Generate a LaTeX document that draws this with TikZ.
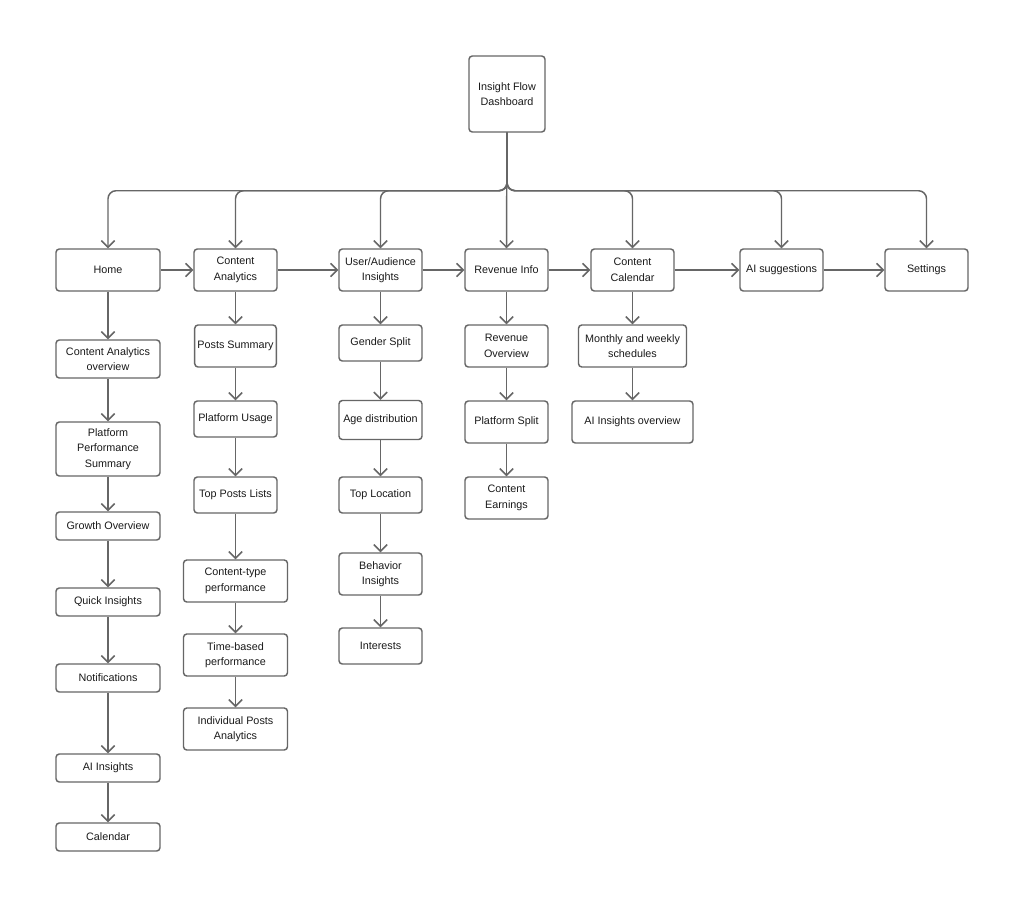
\documentclass[tikz,border=0pt]{standalone}
\usepackage{fontspec}
\setmainfont{Liberation Sans}
\usetikzlibrary{arrows.meta}
\definecolor{linegray}{HTML}{666666}
\definecolor{textgray}{HTML}{1A1A1A}
\tikzstyle{box}=[rectangle,draw=linegray,line width=1.1pt,rounded corners=2.5pt,fill=white,text=textgray,align=center,inner sep=2pt,minimum width=62.25pt,minimum height=31.5pt,font=\fontsize{8.1}{11.6}\selectfont]
\tikzstyle{child}=[-{Straight Barb[length=5pt,width=10pt]},draw=linegray,line width=1.1pt]
\tikzstyle{branch}=[child,rounded corners=6pt]

\begin{document}
\begin{tikzpicture}[x=0.75pt,y=-0.75pt]
  \useasboundingbox[fill=white] (0,0) rectangle (1024,907);

  \node[box,minimum width=57pt,minimum height=57pt] (D) at (507,94) {Insight Flow\\Dashboard};

  % top row
  \node[box,minimum width=78pt] (H) at (108,270) {Home};
  \node[box] (CA) at (235.5,270) {Content\\Analytics};
  \node[box] (UA) at (380.5,270) {User/Audience\\Insights};
  \node[box] (RI) at (506.5,270) {Revenue Info};
  \node[box] (CC) at (632.5,270) {Content\\Calendar};
  \node[box] (AS) at (781.5,270) {AI suggestions};
  \node[box] (ST) at (926.5,270) {Settings};

  % home column
  \node[box,minimum width=78pt,minimum height=28.5pt] (H1) at (108,359) {Content Analytics\\overview};
  \node[box,minimum width=78pt,minimum height=40.5pt] (H2) at (108,449) {Platform\\Performance\\Summary};
  \node[box,minimum width=78pt,minimum height=21pt] (H3) at (108,526) {Growth Overview};
  \node[box,minimum width=78pt,minimum height=21pt] (H4) at (108,602) {Quick Insights};
  \node[box,minimum width=78pt,minimum height=21pt] (H5) at (108,678) {Notifications};
  \node[box,minimum width=78pt,minimum height=21pt] (H6) at (108,768) {AI Insights};
  \node[box,minimum width=78pt,minimum height=21pt] (H7) at (108,837) {Calendar};

  % content analytics column
  \node[box,minimum width=60.75pt] (CA1) at (235.5,346) {Posts Summary};
  \node[box,minimum height=27pt] (CA2) at (235.5,419) {Platform Usage};
  \node[box,minimum height=27pt] (CA3) at (235.5,495) {Top Posts Lists};
  \node[box,minimum width=78pt] (CA4) at (235.5,581) {Content-type\\performance};
  \node[box,minimum width=78pt] (CA5) at (235.5,655) {Time-based\\performance};
  \node[box,minimum width=78pt] (CA6) at (235.5,729) {Individual Posts\\Analytics};

  % audience column
  \node[box,minimum height=27pt] (UA1) at (380.5,343) {Gender Split};
  \node[box,minimum height=29.25pt] (UA2) at (380.5,420) {Age distribution};
  \node[box,minimum height=27pt] (UA3) at (380.5,495) {Top Location};
  \node[box] (UA4) at (380.5,574) {Behavior\\Insights};
  \node[box,minimum height=27pt] (UA5) at (380.5,646) {Interests};

  % revenue column
  \node[box] (RI1) at (506.5,346) {Revenue\\Overview};
  \node[box] (RI2) at (506.5,422) {Platform Split};
  \node[box] (RI3) at (506.5,498) {Content\\Earnings};

  % calendar column
  \node[box,minimum width=81pt] (CC1) at (632.5,346) {Monthly and weekly\\schedules};
  \node[box,minimum width=90.75pt] (CC2) at (632.5,422) {AI Insights overview};

  % branches from the dashboard
  \draw[branch] (D.south) -- ++(0,58) -| (H.north);
  \draw[branch] (D.south) -- ++(0,58) -| (CA.north);
  \draw[branch] (D.south) -- ++(0,58) -| (UA.north);
  \draw[child] (D.south) -- (RI.north);
  \draw[branch] (D.south) -- ++(0,58) -| (CC.north);
  \draw[branch] (D.south) -- ++(0,58) -| (AS.north);
  \draw[branch] (D.south) -- ++(0,58) -| (ST.north);

  \draw[child] (H)--(CA); \draw[child] (CA)--(UA); \draw[child] (UA)--(RI);
  \draw[child] (RI)--(CC); \draw[child] (CC)--(AS); \draw[child] (AS)--(ST);

  \draw[child] (H)--(H1); \draw[child] (H1)--(H2); \draw[child] (H2)--(H3);
  \draw[child] (H3)--(H4); \draw[child] (H4)--(H5); \draw[child] (H5)--(H6);
  \draw[child] (H6)--(H7);

  \draw[child] (CA)--(CA1); \draw[child] (CA1)--(CA2); \draw[child] (CA2)--(CA3);
  \draw[child] (CA3)--(CA4); \draw[child] (CA4)--(CA5); \draw[child] (CA5)--(CA6);

  \draw[child] (UA)--(UA1); \draw[child] (UA1)--(UA2); \draw[child] (UA2)--(UA3);
  \draw[child] (UA3)--(UA4); \draw[child] (UA4)--(UA5);

  \draw[child] (RI)--(RI1); \draw[child] (RI1)--(RI2); \draw[child] (RI2)--(RI3);

  \draw[child] (CC)--(CC1); \draw[child] (CC1)--(CC2);

\end{tikzpicture}
\end{document}
